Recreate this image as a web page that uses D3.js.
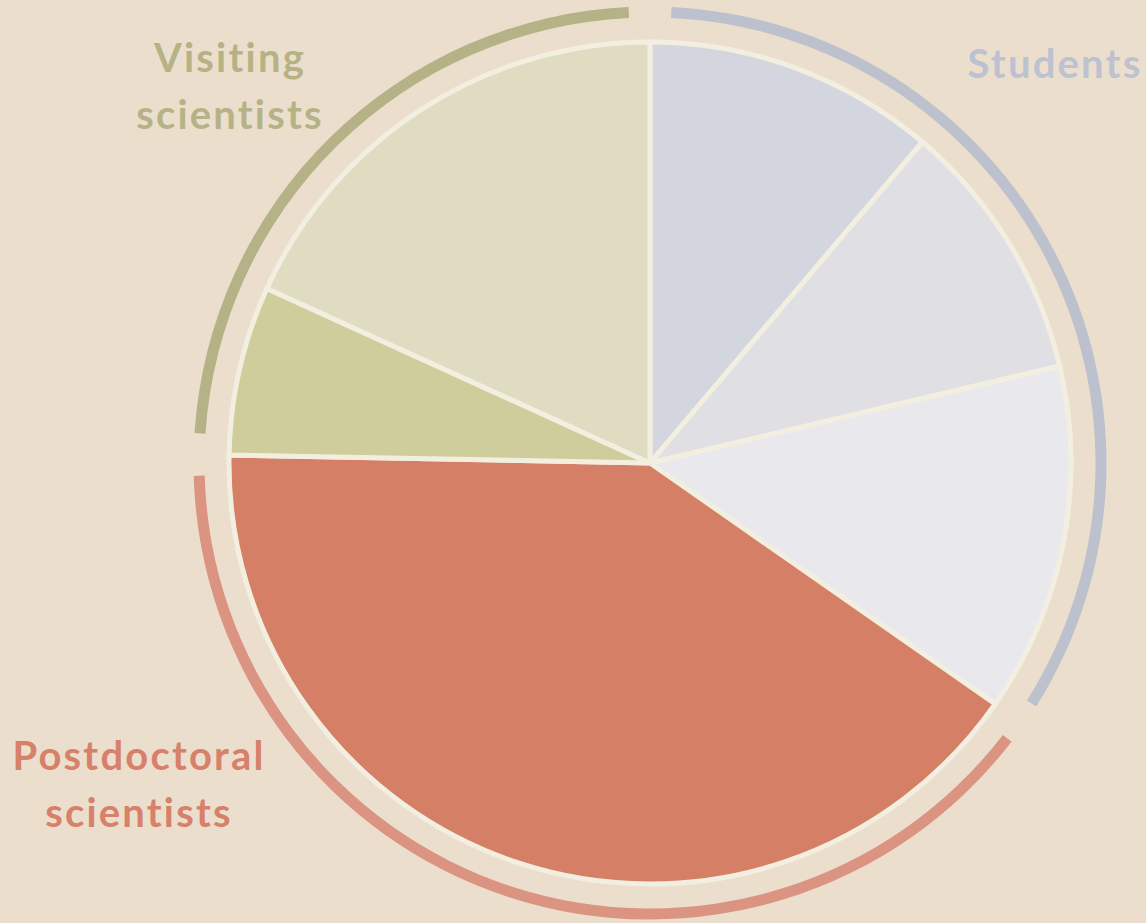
<!DOCTYPE html>
<html>
<head>
<meta charset="utf-8">
<script src="https://cdn.jsdelivr.net/npm/d3@7"></script>
<style>
  body { margin: 0; background: #ecdecd; }
  .group-label { font-family: Lato, "Open Sans", sans-serif; font-weight: 700; font-size: 40px; letter-spacing: 2.2px; }
</style>
</head>
<body>
<div id="chart"></div>
<script>
//////////////////////////////////////////////////////////////
//////////////////////// Data ////////////////////////////////
//////////////////////////////////////////////////////////////

// slices, clockwise from 12 o'clock (share in %)
const sliceGroups = ["Students", "Students", "Students", "Postdoctoral scientists", "Visiting scientists", "Visiting scientists"]
const sliceValues = [11.2, 10.1, 13.4, 40.6, 6.5, 18.2]
const sliceColors = ["#d3d6de", "#dfdfe4", "#e9e9ed", "#d57f66", "#d0cd9c", "#dfdcc1"]

// groups shown by the outer rings
const groupNames = ["Students", "Postdoctoral scientists", "Visiting scientists"]
const groupLabels = [["Students"], ["Postdoctoral", "scientists"], ["Visiting", "scientists"]]
const ringColors = ["#bcc1cd", "#dc9482", "#b4b286"]
const labelColors = ["#bcc2d0", "#d7816a", "#b5b386"]

//////////////////////////////////////////////////////////////
//////////////////////// Create SVG //////////////////////////
//////////////////////////////////////////////////////////////

const width = 1146
const height = 923
const cx = 650, cy = 463
const radius = 421
const ringRadius = 451
const ringPad = 2.7 * Math.PI / 180

const svg = d3.select("#chart")
    .append("svg")
    .attr("width", width)
    .attr("height", height)

svg.append("rect")
    .attr("width", width)
    .attr("height", height)
    .style("fill", "#ecdecd")

const g = svg.append("g")
    .attr("transform", "translate(" + cx + "," + cy + ")")

//////////////////////////////////////////////////////////////
//////////////////////// Pie slices //////////////////////////
//////////////////////////////////////////////////////////////

const slices = sliceValues.map((v, i) => ({ value: v, group: sliceGroups[i], color: sliceColors[i] }))

const pie = d3.pie()
    .value(d => d.value)
    .sort(null)

const arcs = pie(slices)

const arc = d3.arc()
    .innerRadius(0)
    .outerRadius(radius)

g.selectAll(".slice")
    .data(arcs)
    .enter().append("path")
    .attr("class", "slice")
    .attr("d", arc)
    .style("fill", d => d.data.color)
    .style("stroke", "#f2efe0")
    .style("stroke-width", 5)
    .style("stroke-linejoin", "round")

//////////////////////////////////////////////////////////////
//////////////////////// Outer rings /////////////////////////
//////////////////////////////////////////////////////////////

const groupSpans = groupNames.map((name, i) => {
    const own = arcs.filter(a => a.data.group === name)
    return {
        name: name,
        start: d3.min(own, a => a.startAngle),
        end: d3.max(own, a => a.endAngle),
        i: i
    }
})

const ringArc = d3.arc()
    .innerRadius(ringRadius - 5.5)
    .outerRadius(ringRadius + 5.5)
    .startAngle(d => d.start + ringPad)
    .endAngle(d => d.end - ringPad)

g.selectAll(".ring")
    .data(groupSpans)
    .enter().append("path")
    .attr("class", "ring")
    .attr("d", ringArc)
    .style("fill", d => ringColors[d.i])

//////////////////////////////////////////////////////////////
//////////////////////// Labels //////////////////////////////
//////////////////////////////////////////////////////////////

const labelPos = [
    { x: 1055, y: 78 },
    { x: 139, y: 770 },
    { x: 230, y: 72 }
]

groupLabels.forEach((lines, i) => {
    const t = svg.append("text")
        .attr("class", "group-label")
        .attr("text-anchor", "middle")
        .style("fill", labelColors[i])
    lines.forEach((line, j) => {
        t.append("tspan")
            .attr("x", labelPos[i].x)
            .attr("y", labelPos[i].y + j * 57)
            .text(line)
    })
})
</script>
</body>
</html>
